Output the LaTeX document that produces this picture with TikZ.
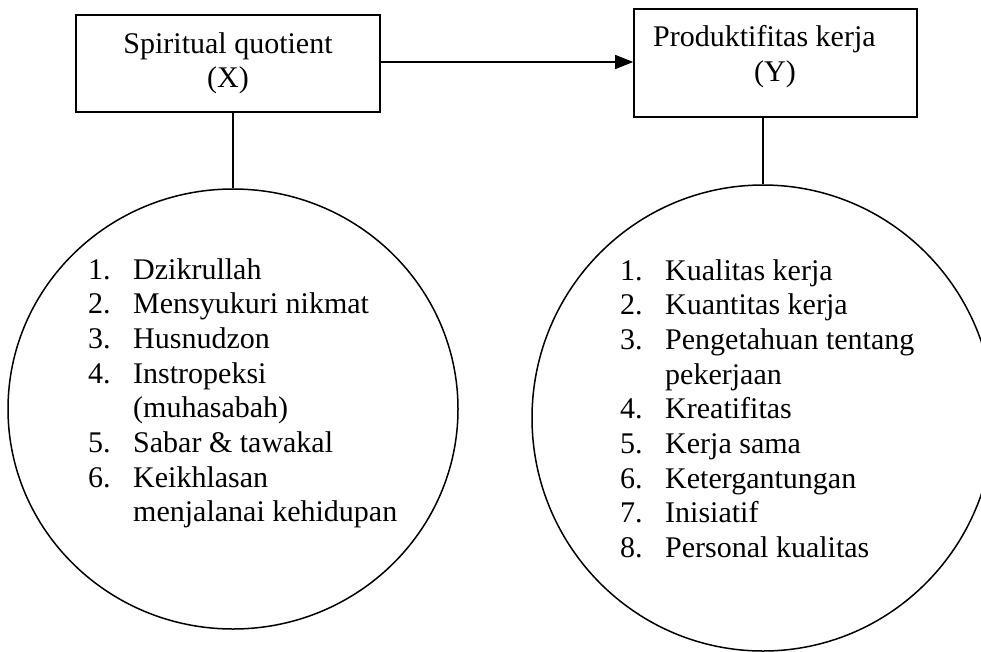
\documentclass[tikz,border=0pt]{standalone}
\usepackage{fontspec}
\setmainfont{Liberation Serif}
\usetikzlibrary{arrows.meta,shapes.geometric}
\tikzset{
  boxnode/.style={draw=black, line width=1.6pt, rectangle, inner sep=0pt},
  ovalnode/.style={draw=black, line width=1.5pt, ellipse, inner sep=0pt},
  txt/.style={inner sep=0pt, font=\fontsize{30pt}{34.7pt}\selectfont},
  link/.style={draw=black, line width=1.5pt},
}
\begin{document}
\begin{tikzpicture}[x=1pt,y=-1pt]
\useasboundingbox (0,0) rectangle (981,651);
% boxes
\node[boxnode, minimum width=304pt, minimum height=97pt] (bx) at (228,63.5) {};
\node[boxnode, minimum width=283pt, minimum height=108pt] (by) at (775.5,63) {};
\node[txt, anchor=base] (bxt1) at (228,53) {Spiritual quotient};
\node[txt, anchor=base] (bxt2) at (228,87.5) {(X)};
\node[txt, anchor=base west] (byt1) at (653,46) {Produktifitas kerja};
\node[txt, anchor=base] (byt2) at (775,81) {(Y)};
% ellipses
\node[ovalnode, minimum width=450pt, minimum height=440pt] (cx) at (233,409) {};
\node[ovalnode, minimum width=462pt, minimum height=466pt] (cy) at (763,418) {};
% arrow
\draw[link, -{Triangle[length=18pt,width=14pt]}] (bx.east |- 0,62) -- (by.west |- 0,62);
% vertical connectors
\draw[link] (bx.south -| cx.north) -- (cx.north);
\draw[link] (by.south -| cy.north) -- (cy.north);
% lists
\node[txt, anchor=base west] (lx) at (88,279) {\begin{tabular}[t]{@{}p{45pt}@{}l@{}}
1. & Dzikrullah\\
2. & Mensyukuri nikmat\\
3. & Husnudzon\\
4. & Instropeksi\\
   & (muhasabah)\\
5. & Sabar \& tawakal\\
6. & Keikhlasan\\
   & menjalanai kehidupan
\end{tabular}};
\node[txt, anchor=base west] (ly) at (620,280) {\begin{tabular}[t]{@{}p{45pt}@{}l@{}}
1. & Kualitas kerja\\
2. & Kuantitas kerja\\
3. & Pengetahuan tentang\\
   & pekerjaan\\
4. & Kreatifitas\\
5. & Kerja sama\\
6. & Ketergantungan\\
7. & Inisiatif\\
8. & Personal kualitas
\end{tabular}};
\end{tikzpicture}
\end{document}
